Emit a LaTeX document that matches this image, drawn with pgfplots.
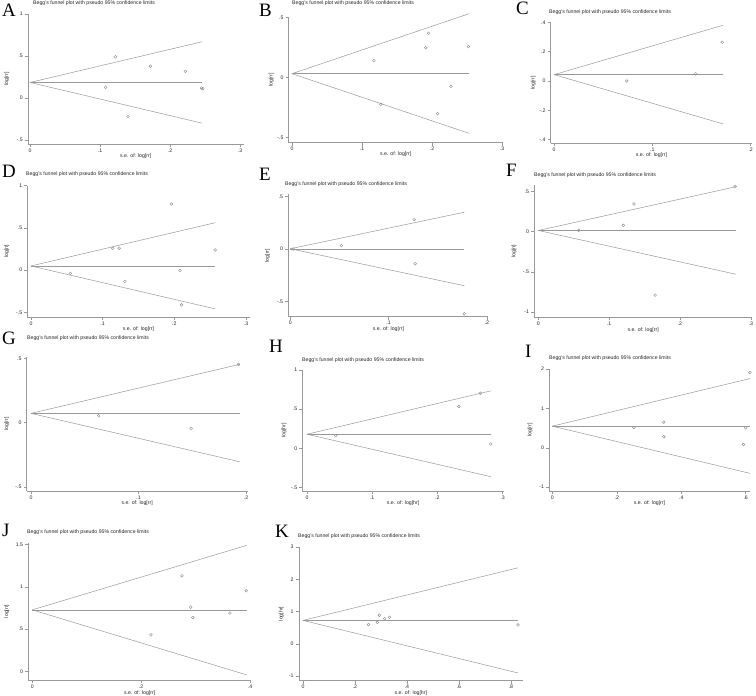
\documentclass[border=0pt]{standalone}
\usepackage{fontspec}
\setmainfont{Liberation Sans}
\newfontfamily\panelfont{Liberation Serif}
\usepackage{pgfplots}
\pgfplotsset{compat=1.18}

\definecolor{axisgray}{gray}{0.6}
\definecolor{linegray}{gray}{0.6}
\definecolor{markgray}{gray}{0.55}
\definecolor{txt}{gray}{0.15}
\newcommand{\smallfont}{\fontsize{5.2}{6}\selectfont}
\newcommand{\letterfont}{\panelfont\fontsize{19}{19}\selectfont}

\pgfplotsset{
  funnel/.style={
    anchor=south west,
    axis x line=bottom, axis y line=left,
    axis line style={-, draw=axisgray, line width=0.5bp},
    tick align=outside, major tick length=3bp,
    tick style={draw=axisgray, line width=0.5bp},
    every tick label/.append style={font=\smallfont, text=txt, inner sep=0.8bp},
    xticklabel shift=0.6bp, yticklabel shift=1.2bp,
    clip=false,
  },
  ylab/.style={every axis y label/.style={at={(axis description cs:0,0.5)},
      xshift=-#1, rotate=90, anchor=center, font=\smallfont, text=txt, inner sep=0pt}},
  xlab/.style={every axis x label/.style={at={(axis description cs:0.5,0)},
      yshift=-#1, anchor=center, font=\smallfont, text=txt, inner sep=0pt}},
  fline/.style={draw=linegray, line width=0.5bp, mark=none},
  fpts/.style={only marks, mark=o, mark size=1.4bp,
      mark options={draw=markgray, line width=0.4bp}},
}

\begin{document}
\begin{tikzpicture}
\useasboundingbox (0,0) rectangle (756bp,696bp);

% ---------------- A ----------------
\begin{axis}[funnel, ylab=21bp, xlab=11.5bp,
  at={(27.9bp,551.8bp)}, x=700bp, y=84bp,
  xmin=-0.003, xmax=0.305, ymin=-0.55, ymax=1,
  xtick={0,0.1,0.2,0.3}, xticklabels={0,.1,.2,.3},
  ytick={-0.5,0,0.5,1}, yticklabels={-.5,0,.5,1},
  xlabel={s.e. of: log[rr]}, ylabel={log[rr]}]
\addplot[fline] coordinates {(0,0.185) (0.246,0.185)};
\addplot[fline] coordinates {(0,0.185) (0.246,0.67)};
\addplot[fline] coordinates {(0,0.185) (0.246,-0.30)};
\addplot[fpts] coordinates {(0.108,0.126) (0.122,0.49) (0.140,-0.22)
  (0.172,0.378) (0.222,0.317) (0.245,0.118) (0.247,0.112)};
\end{axis}

% ---------------- B ----------------
\begin{axis}[funnel, ylab=17.4bp, xlab=11.8bp,
  at={(288.7bp,553.3bp)}, x=700bp, y=120bp,
  xmin=-0.0047, xmax=0.301, ymin=-0.545, ymax=0.5,
  xtick={0,0.1,0.2,0.3}, xticklabels={0,.1,.2,.3},
  ytick={-0.5,0,0.5}, yticklabels={-.5,0,.5},
  xlabel={s.e. of: log[rr]}, ylabel={log[rr]}]
\addplot[fline] coordinates {(0,0.03) (0.253,0.03)};
\addplot[fline] coordinates {(0,0.03) (0.253,0.53)};
\addplot[fline] coordinates {(0,0.03) (0.253,-0.467)};
\addplot[fpts] coordinates {(0.117,0.139) (0.127,-0.225) (0.191,0.247)
  (0.195,0.367) (0.208,-0.303) (0.227,-0.075) (0.252,0.256)};
\end{axis}

% ---------------- C ----------------
\begin{axis}[funnel, ylab=17.4bp, xlab=12bp,
  at={(550.7bp,552.7bp)}, x=983.3bp, y=146.7bp,
  xmin=-0.0034, xmax=0.2015, ymin=-0.425, ymax=0.4,
  xtick={0,0.1,0.2}, xticklabels={0,.1,.2},
  ytick={-0.4,-0.2,0,0.2,0.4}, yticklabels={-.4,-.2,0,.2,.4},
  xlabel={s.e. of: log[rr]}, ylabel={log[rr]}]
\addplot[fline] coordinates {(0,0.043) (0.172,0.043)};
\addplot[fline] coordinates {(0,0.043) (0.172,0.38)};
\addplot[fline] coordinates {(0,0.043) (0.172,-0.293)};
\addplot[fpts] coordinates {(0.074,0.0) (0.144,0.048) (0.171,0.264)};
\end{axis}

% ---------------- D ----------------
\begin{axis}[funnel, ylab=20.5bp, xlab=12.5bp,
  at={(27.4bp,379bp)}, x=716.7bp, y=84.5bp,
  xmin=-0.005, xmax=0.305, ymin=-0.556, ymax=1,
  xtick={0,0.1,0.2,0.3}, xticklabels={0,.1,.2,.3},
  ytick={-0.5,0,0.5,1}, yticklabels={-.5,0,.5,1},
  xlabel={s.e. of: log[rr]}, ylabel={log[rr]}]
\addplot[fline] coordinates {(0,0.048) (0.257,0.048)};
\addplot[fline] coordinates {(0,0.048) (0.257,0.56)};
\addplot[fline] coordinates {(0,0.048) (0.257,-0.46)};
\addplot[fpts] coordinates {(0.055,-0.04) (0.114,0.258) (0.123,0.258)
  (0.131,-0.135) (0.196,0.78) (0.208,-0.004) (0.210,-0.413) (0.257,0.238)};
\end{axis}

% ---------------- E ----------------
\begin{axis}[funnel, ylab=20.7bp, xlab=12.6bp,
  at={(288.3bp,379.3bp)}, x=983.3bp, y=105bp,
  xmin=-0.002, xmax=0.2015, ymin=-0.645, ymax=0.52,
  xtick={0,0.1,0.2}, xticklabels={0,.1,.2},
  ytick={-0.5,0,0.5}, yticklabels={-.5,0,.5},
  xlabel={s.e. of: log[rr]}, ylabel={log[rr]}]
\addplot[fline] coordinates {(0,0.002) (0.177,0.002)};
\addplot[fline] coordinates {(0,0.002) (0.177,0.35)};
\addplot[fline] coordinates {(0,0.002) (0.177,-0.35)};
\addplot[fpts] coordinates {(0.003,0.0) (0.052,0.032) (0.126,0.279)
  (0.127,-0.14) (0.177,-0.616)};
\end{axis}

% ---------------- F ----------------
\begin{axis}[funnel, ylab=20bp, xlab=12.7bp,
  at={(534.1bp,378.7bp)}, x=708bp, y=80.3bp,
  xmin=-0.006, xmax=0.302, ymin=-1.066, ymax=0.58,
  xtick={0,0.1,0.2,0.3}, xticklabels={0,.1,.2,.3},
  ytick={-1,-0.5,0,0.5}, yticklabels={-1,-.5,0,.5},
  xlabel={s.e. of: log[rr]}, ylabel={log[rr]}]
\addplot[fline] coordinates {(0,0.015) (0.279,0.015)};
\addplot[fline] coordinates {(0,0.015) (0.279,0.56)};
\addplot[fline] coordinates {(0,0.015) (0.279,-0.53)};
\addplot[fpts] coordinates {(0.057,0.017) (0.12,0.079) (0.135,0.346)
  (0.165,-0.79) (0.278,0.563)};
\end{axis}

% ---------------- G ----------------
\begin{axis}[funnel, ylab=20bp, xlab=12bp,
  at={(26.7bp,205bp)}, x=1075bp, y=128.3bp,
  xmin=-0.004, xmax=0.2015, ymin=-0.532, ymax=0.51,
  xtick={0,0.1,0.2}, xticklabels={0,.1,.2},
  ytick={-0.5,0,0.5}, yticklabels={-.5,0,.5},
  xlabel={s.e. of: log[rr]}, ylabel={log[rr]}]
\addplot[fline] coordinates {(0,0.073) (0.194,0.073)};
\addplot[fline] coordinates {(0,0.073) (0.194,0.455)};
\addplot[fline] coordinates {(0,0.073) (0.194,-0.304)};
\addplot[fpts] coordinates {(0.063,0.055) (0.149,-0.044) (0.193,0.455)};
\end{axis}

% ---------------- H ----------------
\begin{axis}[funnel, ylab=18.3bp, xlab=12.3bp,
  at={(302.4bp,205bp)}, x=651.7bp, y=78.4bp,
  xmin=-0.007, xmax=0.302, ymin=-0.545, ymax=1,
  xtick={0,0.1,0.2,0.3}, xticklabels={0,.1,.2,.3},
  ytick={-0.5,0,0.5,1}, yticklabels={-.5,0,.5,1},
  xlabel={s.e. of: log[hr]}, ylabel={log[hr]}]
\addplot[fline] coordinates {(0,0.179) (0.282,0.179)};
\addplot[fline] coordinates {(0,0.179) (0.282,0.732)};
\addplot[fline] coordinates {(0,0.179) (0.282,-0.362)};
\addplot[fpts] coordinates {(0.044,0.162) (0.233,0.532) (0.266,0.702)
  (0.282,0.055)};
\end{axis}

% ---------------- I ----------------
\begin{axis}[funnel, ylab=19bp, xlab=12.3bp,
  at={(549.1bp,205bp)}, x=322.3bp, y=39.3bp,
  xmin=-0.01, xmax=0.613, ymin=-1.10, ymax=2,
  xtick={0,0.2,0.4,0.6}, xticklabels={0,.2,.4,.6},
  ytick={-1,0,1,2}, yticklabels={-1,0,1,2},
  xlabel={s.e. of: log[rr]}, ylabel={log[rr]}]
\addplot[fline] coordinates {(0,0.55) (0.613,0.55)};
\addplot[fline] coordinates {(0,0.55) (0.613,1.76)};
\addplot[fline] coordinates {(0,0.55) (0.613,-0.65)};
\addplot[fpts] coordinates {(0.253,0.517) (0.346,0.65) (0.346,0.28)
  (0.593,0.085) (0.6,0.508) (0.613,1.915)};
\end{axis}

% ---------------- J ----------------
\begin{axis}[funnel, ylab=21.6bp, xlab=12.7bp,
  at={(28.3bp,16bp)}, x=544.3bp, y=84.7bp,
  xmin=-0.0073, xmax=0.402, ymin=-0.1, ymax=1.52,
  xtick={0,0.2,0.4}, xticklabels={0,.2,.4},
  ytick={0,0.5,1,1.5}, yticklabels={0,.5,1,1.5},
  xlabel={s.e. of: log[rr]}, ylabel={log[rr]}]
\addplot[fline] coordinates {(0,0.728) (0.394,0.728)};
\addplot[fline] coordinates {(0,0.728) (0.394,1.49)};
\addplot[fline] coordinates {(0,0.728) (0.394,-0.04)};
\addplot[fpts] coordinates {(0.218,0.433) (0.275,1.13) (0.291,0.76)
  (0.295,0.638) (0.363,0.689) (0.393,0.953)};
\end{axis}

% ---------------- K ----------------
\begin{axis}[funnel, ylab=17.4bp, xlab=12bp,
  at={(298.8bp,15.3bp)}, x=260bp, y=32.25bp,
  xmin=-0.016, xmax=0.846, ymin=-1.14, ymax=3,
  xtick={0,0.2,0.4,0.6,0.8}, xticklabels={0,.2,.4,.6,.8},
  ytick={-1,0,1,2,3}, yticklabels={-1,0,1,2,3},
  xlabel={s.e. of: log[hr]}, ylabel={log[hr]}]
\addplot[fline] coordinates {(0,0.73) (0.827,0.73)};
\addplot[fline] coordinates {(0,0.73) (0.827,2.36)};
\addplot[fline] coordinates {(0,0.73) (0.827,-0.90)};
\addplot[fpts] coordinates {(0.252,0.6) (0.286,0.67) (0.294,0.89)
  (0.314,0.785) (0.333,0.827) (0.827,0.59)};
\end{axis}

% titles
\begin{scope}[every node/.style={anchor=west, font=\smallfont, text=txt, inner sep=0pt}]
\node at (33bp,692.5bp) {Begg's funnel plot with pseudo 95\% confidence limits};
\node at (292bp,693bp) {Begg's funnel plot with pseudo 95\% confidence limits};
\node at (549bp,683.5bp) {Begg's funnel plot with pseudo 95\% confidence limits};
\node at (26bp,521.5bp) {Begg's funnel plot with pseudo 95\% confidence limits};
\node at (285bp,512bp) {Begg's funnel plot with pseudo 95\% confidence limits};
\node at (534bp,521bp) {Begg's funnel plot with pseudo 95\% confidence limits};
\node at (27bp,358bp) {Begg's funnel plot with pseudo 95\% confidence limits};
\node at (302bp,336bp) {Begg's funnel plot with pseudo 95\% confidence limits};
\node at (549bp,338bp) {Begg's funnel plot with pseudo 95\% confidence limits};
\node at (27bp,164bp) {Begg's funnel plot with pseudo 95\% confidence limits};
\node at (298bp,160bp) {Begg's funnel plot with pseudo 95\% confidence limits};
\end{scope}

% panel letters
\begin{scope}[every node/.style={anchor=base west, font=\letterfont, inner sep=0pt}]
\node at (2bp,679bp) {A};
\node at (259bp,679bp) {B};
\node at (516bp,681bp) {C};
\node at (2bp,518bp) {D};
\node at (259bp,515bp) {E};
\node at (506bp,519bp) {F};
\node at (2bp,351bp) {G};
\node at (269bp,343bp) {H};
\node at (525bp,338bp) {I};
\node at (2bp,159bp) {J};
\node at (275bp,158bp) {K};
\end{scope}
\end{tikzpicture}
\end{document}
